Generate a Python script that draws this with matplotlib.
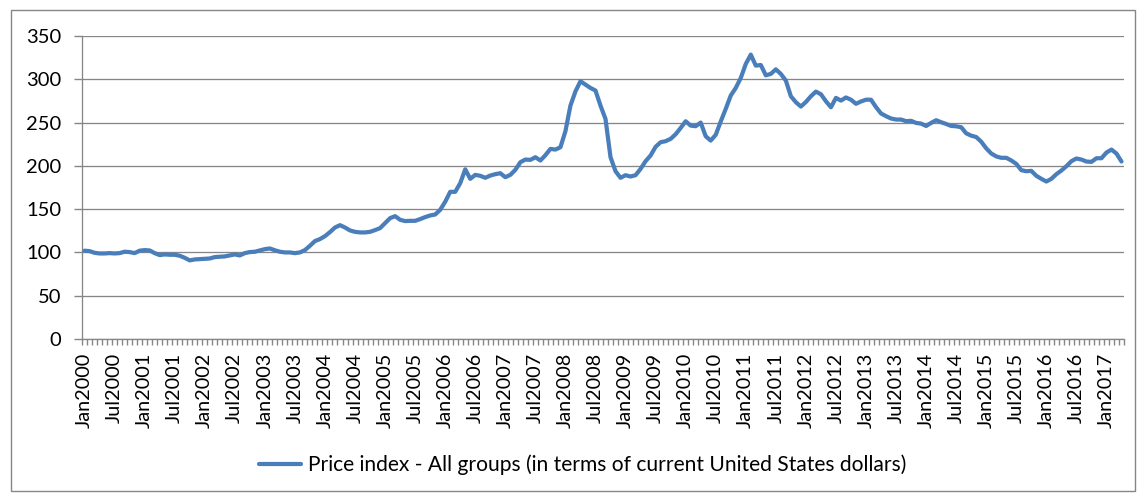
import matplotlib
matplotlib.use("Agg")
import matplotlib.pyplot as plt
from matplotlib.patches import Rectangle
from matplotlib.ticker import FixedLocator

# ---- data (monthly price index, Jan 2000 - Apr 2017) ----
v2000 = [102, 101.5, 99.6, 98.8, 98.8, 99.2, 98.8, 99.2, 100.8, 100.4, 99.2, 102]
v2001 = [102.7, 102.3, 99.2, 96.9, 97.7, 97.3, 97.3, 96.2, 93.8, 90.8, 91.9, 92.3]
v2002 = [92.7, 93, 94.6, 95, 95.4, 96.5, 97.7, 96.5, 99.2, 100.4, 100.8, 102.3]
v2003 = [103.8, 104.6, 102.5, 100.8, 100, 100, 99.2, 100, 102.7, 107.7, 113.1, 115.4]
v2004 = [118.8, 123.5, 128.8, 131.5, 128.8, 125.4, 123.8, 123.1, 123.1, 123.8, 125.8, 128.1]
v2005 = [133.8, 139.6, 141.9, 137.7, 136.2, 136.5, 136.5, 138.5, 140.8, 142.7, 143.8, 149.2]
v2006 = [158.5, 170, 170, 180, 196, 185, 189.6, 188.5, 186.2, 188.8, 190.4, 191.5]
v2007 = [186.9, 189.6, 195.4, 204.2, 207.3, 206.9, 210, 206.2, 212.3, 219.6, 218.8, 221.5]
v2008 = [240, 269.6, 286, 297.7, 293.8, 290, 287, 269.6, 254.2, 210, 193.8, 186.2]
v2009 = [189.2, 187.7, 189.2, 196.5, 205.4, 212, 222, 227.3, 228.5, 231.2, 236.5, 243.8]
v2010 = [251.5, 246.5, 245.8, 250, 234.2, 229.2, 235.8, 251.2, 265.8, 281.2, 290, 301.5]
v2011 = [317.7, 328.5, 315.8, 316.5, 304.6, 306.2, 311.5, 306.2, 298.5, 280.4, 273.5, 268.5]
v2012 = [273.8, 280.4, 285.8, 282.7, 274.6, 267.7, 278.5, 275.4, 279, 276.4, 271.7, 274.4]
v2013 = [276.4, 276.4, 267.8, 260.5, 257.4, 254.7, 253.5, 253.5, 251.6, 252, 249.6, 248.8]
v2014 = [246.1, 249.6, 252.7, 250.4, 248.4, 246.1, 245.7, 244.6, 237.6, 234.9, 233.3, 227.9]
v2015 = [220.2, 214.3, 210.9, 209.3, 209.3, 206.2, 202.3, 195, 193.8, 194.2, 188.5, 185]
v2016 = [181.9, 185, 190.4, 194.6, 199.6, 205.4, 208.5, 207.3, 205, 204.6, 208.8, 208.8]
v2017 = [215.4, 218.8, 214.2, 205]

years = list(range(2000, 2018))
month_names = ["Jan", "Feb", "Mar", "Apr", "May", "Jun",
               "Jul", "Aug", "Sep", "Oct", "Nov", "Dec"]
series_name = "Price index - All groups (in terms of current United States dollars)"
y_ticks = [0, 50, 100, 150, 200, 250, 300, 350]

values = (v2000 + v2001 + v2002 + v2003 + v2004 + v2005 + v2006 + v2007 + v2008
          + v2009 + v2010 + v2011 + v2012 + v2013 + v2014 + v2015 + v2016 + v2017)
categories = [f"{m}{y}" for y in years for m in month_names][:len(values)]
n = len(values)
xs = list(range(n))

# ---- figure ----
W, H = 1137, 493
DPI = 100
FONT = ["Lato", "DejaVu Sans"]
plt.rcParams["font.family"] = FONT
fig = plt.figure(figsize=(W / DPI, H / DPI), dpi=DPI)
renderer = fig.canvas.get_renderer()


def fit_size(text, target_px):
    t = fig.text(0, 0, text, fontsize=10)
    w = t.get_window_extent(renderer).width
    t.remove()
    return 10 * target_px / w


tick_fs = fit_size("Jan2000", 75)
ytick_fs = fit_size("350", 35)
legend_fs = fit_size(series_name, 600)

GRAY = "#868686"
BLUE = "#4A7EBB"
PX = 72 / DPI  # points per pixel

# chart border
fig.patches.append(Rectangle((11 / W, 2 / H), (1135 - 11) / W, (491 - 10) / H,
                             transform=fig.transFigure, fill=False,
                             edgecolor=GRAY, linewidth=1.0, zorder=0))

ax = fig.add_axes([82 / W, (H - 339) / H, (1124 - 82) / W, (339 - 36) / H])
line, = ax.plot(xs, values, color=BLUE, linewidth=4.2 * PX,
                solid_joinstyle="round", solid_capstyle="round",
                label=series_name, zorder=3)

ax.set_xlim(-0.5, n - 0.5)
ax.set_ylim(0, 350)

# y axis
ax.set_yticks(y_ticks)
ax.set_yticklabels([str(v) for v in y_ticks], fontsize=ytick_fs, color="#000000")
ax.tick_params(axis="y", which="major", direction="out", length=8 * PX,
               width=1.0, color=GRAY, pad=13 * PX)
ax.yaxis.grid(True, color=GRAY, linewidth=1.3 * PX, zorder=1)
ax.set_axisbelow(True)

# x axis: labels every 6 months, minor ticks at category boundaries
major_pos = xs[::6]
ax.set_xticks(major_pos)
ax.set_xticklabels([categories[i] for i in major_pos], rotation=90,
                   fontsize=tick_fs, color="#000000")
ax.xaxis.set_minor_locator(FixedLocator([i - 0.5 for i in range(n + 1)]))
ax.tick_params(axis="x", which="major", length=0, pad=14 * PX)
ax.tick_params(axis="x", which="minor", direction="out", length=6 * PX,
               width=1.0, color=GRAY)

for s in ["top", "right"]:
    ax.spines[s].set_visible(False)
for s in ["left", "bottom"]:
    ax.spines[s].set_color(GRAY)
    ax.spines[s].set_linewidth(1.3 * PX)

# legend
fs_px = legend_fs / PX
leg = fig.legend(handles=[line], labels=[series_name], loc="center",
                 bbox_to_anchor=(583 / W, (H - 465) / H),
                 frameon=False, fontsize=legend_fs,
                 handlelength=42 / fs_px, handletextpad=7 / fs_px)

fig.savefig("out.png", dpi=DPI)
